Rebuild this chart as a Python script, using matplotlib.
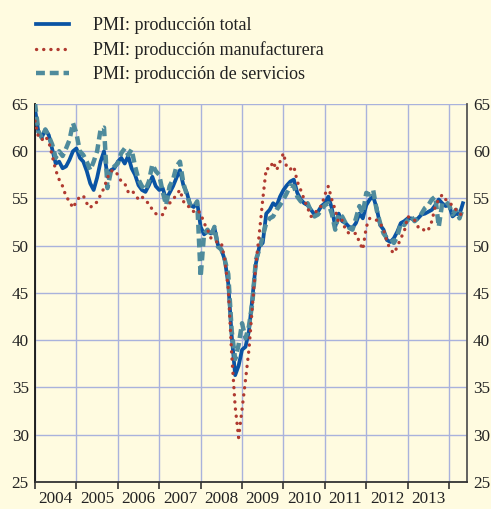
import matplotlib
matplotlib.use("Agg")
import matplotlib.pyplot as plt
import numpy as np

total = [
    64.5, 62.0, 61.5, 62.3, 61.7, 60.2, 58.7, 58.9, 58.2, 58.4, 59.1, 60.0,
    60.3, 59.3, 58.9, 57.9, 56.6, 55.9, 57.2, 58.9, 60.0, 57.3, 58.0, 58.2,
    58.9, 59.3, 58.7, 59.5, 58.2, 57.5, 56.4, 55.9, 55.7, 56.4, 57.3, 56.3,
    55.9, 56.1, 54.9, 55.6, 56.3, 57.2, 58.0, 56.4, 55.6, 54.3, 54.1, 54.6,
    52.0, 51.2, 51.5, 51.3, 51.9, 50.1, 49.6, 48.5, 46.0, 40.5, 36.3, 37.3,
    39.0, 39.3, 41.0, 44.5, 48.1, 49.9, 50.3, 53.4, 53.8, 54.5, 54.2, 55.2,
    55.9, 56.4, 56.8, 57.0, 55.6, 54.9, 54.5, 54.3, 53.8, 53.3, 53.6, 54.2,
    54.5, 55.2, 54.0, 52.0, 53.4, 52.6, 52.4, 52.0, 51.9, 52.4, 53.4, 52.9,
    54.3, 54.9, 55.2, 54.0, 52.2, 51.7, 50.6, 50.4, 50.8, 51.5, 52.4, 52.6,
    52.9, 52.9, 52.7, 52.9, 53.3, 53.4, 53.6, 53.8, 54.3, 54.9, 54.5, 54.2,
    54.3, 53.1, 53.4, 53.3, 54.5,
]
manufacturing = [
    63.2, 61.5, 61.2, 61.6, 61.0, 59.5, 58.0, 57.0, 56.3, 55.2, 54.7, 54.0,
    54.7, 55.2, 55.3, 54.5, 54.0, 54.5, 54.6, 55.4, 56.1, 57.2, 57.9, 58.0,
    57.5, 56.8, 56.6, 55.7, 55.9, 55.4, 54.9, 55.2, 54.7, 54.5, 53.8, 53.4,
    53.2, 53.3, 54.2, 54.5, 54.9, 55.4, 55.9, 54.7, 54.2, 54.1, 53.6, 53.8,
    53.4, 52.4, 51.7, 50.8, 50.6, 50.3, 50.3, 48.5, 45.5, 38.5, 33.0, 29.7,
    32.7, 35.8, 39.0, 43.6, 48.0, 51.3, 54.9, 58.2, 58.1, 58.9, 58.0, 58.9,
    59.8, 58.2, 58.1, 58.4, 56.8, 55.9, 54.9, 54.0, 53.1, 53.3, 54.0, 54.2,
    55.4, 56.3, 54.9, 53.8, 52.4, 52.7, 51.7, 51.3, 51.3, 51.3, 50.4, 49.6,
    52.0, 52.9, 52.8, 52.7, 52.4, 51.7, 50.4, 49.6, 49.2, 49.9, 50.8, 51.5,
    53.1, 52.9, 52.7, 52.0, 52.0, 51.5, 51.7, 52.6, 54.2, 54.9, 55.4, 54.9,
    54.5, 54.3, 53.8, 53.6, 52.9,
]
services = [
    65.1, 62.1, 61.4, 62.3, 61.6, 60.7, 59.3, 60.0, 59.5, 60.3, 61.2, 63.0,
    61.9, 60.0, 59.6, 58.9, 58.0, 58.9, 60.0, 62.3, 62.5, 56.1, 57.9, 58.4,
    58.7, 59.8, 60.3, 59.6, 60.2, 58.4, 57.0, 56.3, 55.9, 56.8, 58.6, 57.9,
    57.5, 55.7, 54.3, 56.3, 57.0, 58.4, 58.9, 56.6, 55.4, 54.3, 54.1, 54.7,
    46.7, 51.3, 51.7, 51.0, 52.0, 49.9, 49.6, 48.5, 47.0, 41.0, 38.0, 39.5,
    41.8, 40.2, 41.5, 44.0, 48.5, 49.6, 51.0, 52.4, 52.9, 53.1, 53.8, 54.3,
    54.9, 55.6, 56.4, 56.3, 55.2, 54.7, 54.5, 54.5, 53.6, 53.1, 53.3, 53.8,
    54.3, 54.5, 53.4, 51.7, 53.4, 53.1, 52.4, 51.9, 51.7, 52.9, 54.2, 53.4,
    55.6, 55.4, 55.9, 53.8, 52.4, 51.3, 50.8, 50.8, 50.3, 51.0, 52.4, 52.2,
    52.7, 53.1, 52.6, 52.9, 53.4, 54.0, 54.3, 54.9, 55.2, 52.0, 54.5, 54.7,
    54.3, 53.3, 53.8, 52.9, 54.0,
]
years = list(range(2004, 2014))
labels = ["PMI: producción total", "PMI: producción manufacturera",
          "PMI: producción de servicios"]

t = 2004 + np.arange(len(total)) / 12.0

bg = "#fffbe0"
grid_c = "#a9b2dc"
c_total = "#0a54a4"
c_manu = "#b03a30"
c_serv = "#4f8b9c"

plt.rcParams['font.family'] = ['Liberation Serif', 'DejaVu Serif']
fig = plt.figure(figsize=(4.91, 5.09), dpi=100, facecolor=bg)
ax = fig.add_axes([35/491, 1-482/509, 431.5/491, 378/509], facecolor=bg)

l1, = ax.plot(t, total, color=c_total, lw=2.7, solid_joinstyle='round', zorder=3)
l2, = ax.plot(t, manufacturing, color=c_manu, lw=2.4, linestyle=(0, (0.05, 2.1)),
              dash_capstyle='round', zorder=5)
l3, = ax.plot(t, services, color=c_serv, lw=3.2, linestyle=(0, (2.0, 1.1)), zorder=4)

ax.set_xlim(2004, 2014.42)
ax.set_ylim(25, 65)
ax.set_yticks(range(25, 66, 5))
ax.set_xticks(list(years) + [2014])
ax.set_xticklabels([])
ax.set_xticks([y + 0.5 for y in years], minor=True)
ax.set_xticklabels([str(y) for y in years], minor=True)

ax.grid(True, which='major', color=grid_c, lw=1.0, zorder=1)
ax.tick_params(axis='x', which='major', direction='out', length=5, width=1.2,
               color='#333333', labelbottom=False)
ax.tick_params(axis='x', which='minor', length=0, pad=6.5, labelsize=12.3,
               labelcolor='#222222')
ax.tick_params(axis='y', length=0, left=False, right=False, labelleft=True,
               labelright=True, labelsize=12.3, labelcolor='#222222', pad=4.5)

ax.spines['top'].set_visible(False)
ax.spines['left'].set_color('#111111')
ax.spines['left'].set_linewidth(1.3)
ax.spines['right'].set_color('#555555')
ax.spines['right'].set_linewidth(1.3)
ax.spines['bottom'].set_color('#333333')
ax.spines['bottom'].set_linewidth(1.3)

leg = fig.legend([l1, l2, l3], labels, loc='upper left',
                 bbox_to_anchor=(36/491, 1-17/509), frameon=False,
                 fontsize=13, handlelength=1.85, handletextpad=1.3,
                 labelspacing=0.4, borderpad=0, borderaxespad=0)
for txt in leg.get_texts():
    txt.set_color('#222222')

fig.savefig("out.png", dpi=100, facecolor=bg)
